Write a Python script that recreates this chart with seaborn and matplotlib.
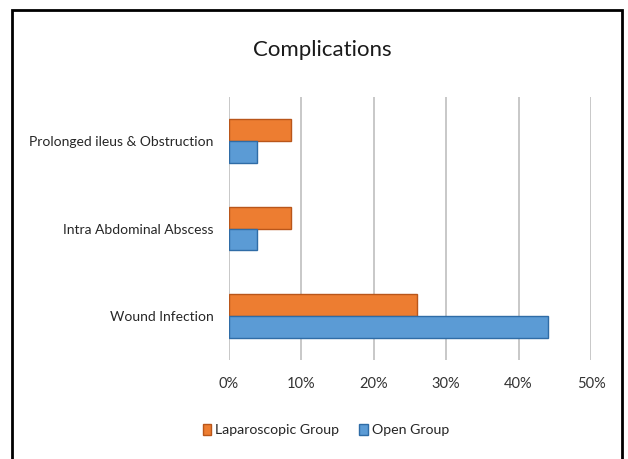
import matplotlib
matplotlib.use("Agg")
import matplotlib.pyplot as plt
import seaborn as sns
import pandas as pd
from matplotlib.patches import Rectangle

categories = ["Prolonged ileus & Obstruction", "Intra Abdominal Abscess", "Wound Infection"]
laparoscopic = [8.5, 8.5, 26.0]
open_group = [3.8, 3.8, 44.0]
series_names = ["Laparoscopic Group", "Open Group"]
x_ticks = [0, 10, 20, 30, 40, 50]

rows = []
for c, v in zip(categories, laparoscopic):
    rows.append({"Complication": c, "Group": series_names[0], "Value": v})
for c, v in zip(categories, open_group):
    rows.append({"Complication": c, "Group": series_names[1], "Value": v})
df = pd.DataFrame(rows)

sns.set_theme(style="white")
plt.rcParams["font.family"] = ["Lato", "DejaVu Sans"]

fig = plt.figure(figsize=(6.28, 4.59), dpi=100)
ax = fig.add_axes([229/628, 1-360/459, (591-229)/628, (360-97)/459])

palette = {series_names[0]: "#ED7D31", series_names[1]: "#5B9BD5"}
edges = {series_names[0]: "#B9561A", series_names[1]: "#2F6CA6"}
sns.barplot(data=df, y="Complication", x="Value", hue="Group", order=categories,
            hue_order=series_names, palette=palette, width=0.5, orient="h",
            ax=ax, saturation=1, legend=False, zorder=3)

for container, name in zip(ax.containers, series_names):
    for bar in container:
        bar.set_edgecolor(edges[name])
        bar.set_linewidth(1.0)

ax.set_xlim(0, 50)
ax.set_xticks(x_ticks)
ax.set_xticklabels([f"{t}%" for t in x_ticks])
ax.grid(axis="x", color="#BFBFBF", linewidth=1.2, zorder=0)
ax.grid(axis="y", visible=False)
for s in ax.spines.values():
    s.set_visible(False)
ax.set_xlabel("")
ax.set_ylabel("")
ax.tick_params(axis="x", length=0, pad=12, labelsize=10.5, colors="#333333")
ax.tick_params(axis="y", length=0, pad=11, labelsize=10, colors="#262626")

fig.text(322/628, 1-50/459, "Complications", ha="center", va="center",
         fontsize=16, color="#1a1a1a")

handles = [Rectangle((0, 0), 1, 1, facecolor=palette[n], edgecolor=edges[n], linewidth=1)
           for n in series_names]
fig.legend(handles, series_names, loc="center", bbox_to_anchor=(326/628, 1-430/459),
           ncol=2, frameon=False, handlelength=0.6, handleheight=0.8, handletextpad=0.3,
           columnspacing=1.4, fontsize=10.2)

border = Rectangle((12/628, -0.02), (622-12)/628, 1-10/459 + 0.02, transform=fig.transFigure,
                   fill=False, edgecolor="black", linewidth=2, zorder=10)
fig.patches.append(border)

fig.savefig("out.png", dpi=100)
